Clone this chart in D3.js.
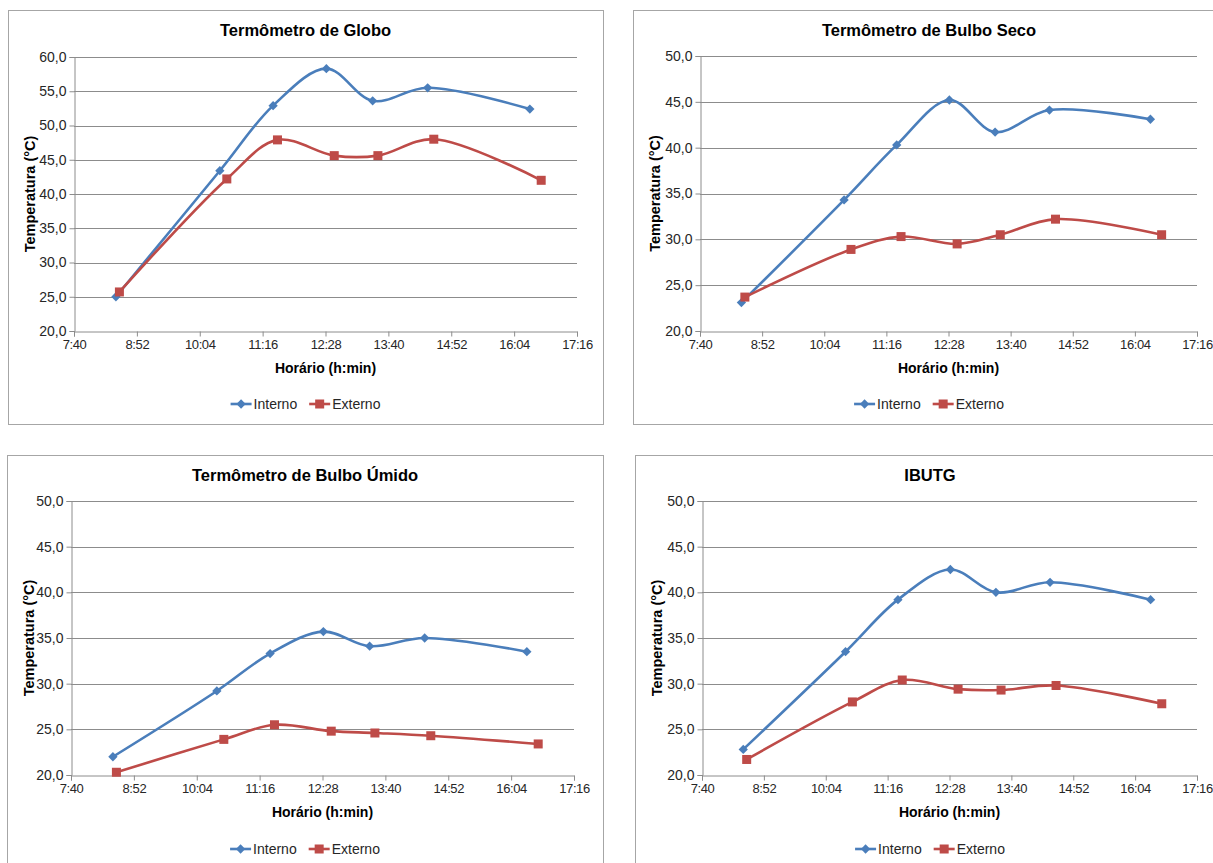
<!DOCTYPE html>
<html><head><meta charset="utf-8">
<script src="https://cdn.jsdelivr.net/npm/d3@7"></script>
<style>
body{margin:0;background:#fff}
svg{display:block}
text{font-family:"Liberation Sans",Arial,sans-serif}
</style>
</head><body>
<svg id="c" width="1213" height="863"></svg>
<script>
// ---- data ----
const xTickLabels = ["7:40","8:52","10:04","11:16","12:28","13:40","14:52","16:04","17:16"];
const seriesNames = ["Interno","Externo"];
const timesInterno = ["8:28","10:27","11:28","12:29","13:22","14:25","16:22"];
const timesExterno = ["8:32","10:35","11:33","12:38","13:28","14:32","16:35"];
const chartTitles = ["Termômetro de Globo","Termômetro de Bulbo Seco","Termômetro de Bulbo Úmido","IBUTG"];
const globoInterno = [25.0,43.4,52.9,58.3,53.6,55.5,52.4];
const globoExterno = [25.7,42.2,47.9,45.6,45.6,48.0,42.0];
const secoInterno  = [23.1,34.3,40.3,45.2,41.7,44.1,43.1];
const secoExterno  = [23.7,28.9,30.3,29.5,30.5,32.2,30.5];
const umidoInterno = [22.0,29.2,33.3,35.7,34.1,35.0,33.5];
const umidoExterno = [20.3,23.9,25.5,24.8,24.6,24.3,23.4];
const ibutgInterno = [22.8,33.5,39.2,42.5,40.0,41.1,39.2];
const ibutgExterno = [21.7,28.0,30.4,29.4,29.3,29.8,27.8];
const yTicksGlobo = [20,25,30,35,40,45,50,55,60];
const yTicksOther = [20,25,30,35,40,45,50];
const yAxisTitle = "Temperatura (°C)";
const xAxisTitle = "Horário (h:min)";

// ---- layout ----
const colors = ["#4A7EBB","#BE4B48"];
const panels = [
  {title:chartTitles[0], interno:globoInterno, externo:globoExterno, yTicks:yTicksGlobo,
   box:[8,10,603,424], plot:[74,57,577,331]},
  {title:chartTitles[1], interno:secoInterno, externo:secoExterno, yTicks:yTicksOther,
   box:[633,10,1225,424], plot:[700,56,1197,331]},
  {title:chartTitles[2], interno:umidoInterno, externo:umidoExterno, yTicks:yTicksOther,
   box:[7,455,603,875], plot:[71,501,574,775]},
  {title:chartTitles[3], interno:ibutgInterno, externo:ibutgExterno, yTicks:yTicksOther,
   box:[635,455,1225,875], plot:[702,501,1197,775]}
];

const toMin = s => { const [h,m] = s.split(":").map(Number); return h*60+m; };
const loc = d3.formatLocale({decimal:",", thousands:".", grouping:[3], currency:["",""]});
const fmt = loc.format(".1f");
const svg = d3.select("#c");

function marker(g, type, x, y){
  if(type===0){
    g.append("path").attr("d", d3.symbol(d3.symbolDiamond2, 55)())
      .attr("transform",`translate(${x},${y})`).attr("fill",colors[0]);
  } else {
    g.append("rect").attr("x",x-4.5).attr("y",y-4.5).attr("width",9).attr("height",9)
      .attr("fill",colors[1]);
  }
}

panels.forEach(p => {
  const [bx0,by0,bx1,by1] = p.box;
  const [px0,py0,px1,py1] = p.plot;
  const g = svg.append("g");
  g.append("rect").attr("x",bx0+0.5).attr("y",by0+0.5).attr("width",bx1-bx0).attr("height",by1-by0)
    .attr("fill","#fff").attr("stroke","#a6a6a6").attr("stroke-width",1);

  const xTicks = xTickLabels.map(toMin);
  const x = d3.scaleLinear().domain([xTicks[0], xTicks[xTicks.length-1]]).range([px0,px1]);
  const y = d3.scaleLinear().domain([p.yTicks[0], p.yTicks[p.yTicks.length-1]]).range([py1,py0]);

  // gridlines
  g.append("g").selectAll("line").data(p.yTicks.slice(1)).join("line")
    .attr("x1",px0).attr("x2",px1)
    .attr("y1",d=>Math.round(y(d))+0.5).attr("y2",d=>Math.round(y(d))+0.5)
    .attr("stroke","#8c8c8c").attr("stroke-width",1);

  // y axis
  const ya = g.append("g").attr("transform",`translate(${px0+0.5},0)`)
    .call(d3.axisLeft(y).tickValues(p.yTicks).tickFormat(fmt).tickSize(5).tickPadding(3));
  ya.select(".domain").attr("stroke","#8c8c8c");
  ya.selectAll(".tick line").attr("stroke","#8c8c8c");
  ya.selectAll("text").attr("font-size",14).attr("fill","#262626");

  // x axis
  const xa = g.append("g").attr("transform",`translate(0,${py1+0.5})`)
    .call(d3.axisBottom(x).tickValues(xTicks).tickFormat((d,i)=>xTickLabels[i]).tickSize(5).tickPadding(3));
  xa.select(".domain").attr("stroke","#8c8c8c");
  xa.selectAll(".tick line").attr("stroke","#8c8c8c");
  xa.selectAll("text").attr("font-size",13).attr("letter-spacing","-0.4px").attr("fill","#262626");

  // titles
  const cx = (bx0+bx1)/2;
  g.append("text").attr("x",cx).attr("y",by0+26).attr("text-anchor","middle")
    .attr("font-size",16.5).attr("font-weight","bold").attr("fill","#000").text(p.title);
  g.append("text").attr("x",(px0+px1)/2).attr("y",py1+42).attr("text-anchor","middle")
    .attr("font-size",14).attr("font-weight","bold").attr("fill","#000").text(xAxisTitle);
  g.append("text").attr("transform",`translate(${bx0+27},${(py0+py1)/2}) rotate(-90)`)
    .attr("text-anchor","middle").attr("font-size",14.5).attr("font-weight","bold").attr("fill","#000")
    .text(yAxisTitle);

  // series
  const series = [
    {times:timesInterno, vals:p.interno},
    {times:timesExterno, vals:p.externo}
  ];
  const line = d3.line().x(d=>x(d[0])).y(d=>y(d[1])).curve(d3.curveCatmullRom.alpha(0.5));
  series.forEach((s,si) => {
    const pts = s.times.map((t,i)=>[toMin(t), s.vals[i]]);
    g.append("path").attr("d",line(pts)).attr("fill","none")
      .attr("stroke",colors[si]).attr("stroke-width",2.6).attr("stroke-linejoin","round");
    pts.forEach(d => marker(g, si, x(d[0]), y(d[1])));
  });

  // legend
  const ly = by0 + 394;
  const lg = g.append("g");
  let cur = 0;
  seriesNames.forEach((n,i) => {
    const it = lg.append("g").attr("transform",`translate(${cur},0)`);
    it.append("line").attr("x1",0).attr("x2",21).attr("y1",ly).attr("y2",ly)
      .attr("stroke",colors[i]).attr("stroke-width",2.6);
    marker(it, i, 10.5, ly);
    const t = it.append("text").attr("x",23).attr("y",ly+5).attr("font-size",14).attr("fill","#262626").text(n);
    cur += 23 + t.node().getComputedTextLength() + 12;
  });
  const w = cur - 12;
  lg.attr("transform",`translate(${cx - w/2},0)`);
});
</script>
</body></html>
